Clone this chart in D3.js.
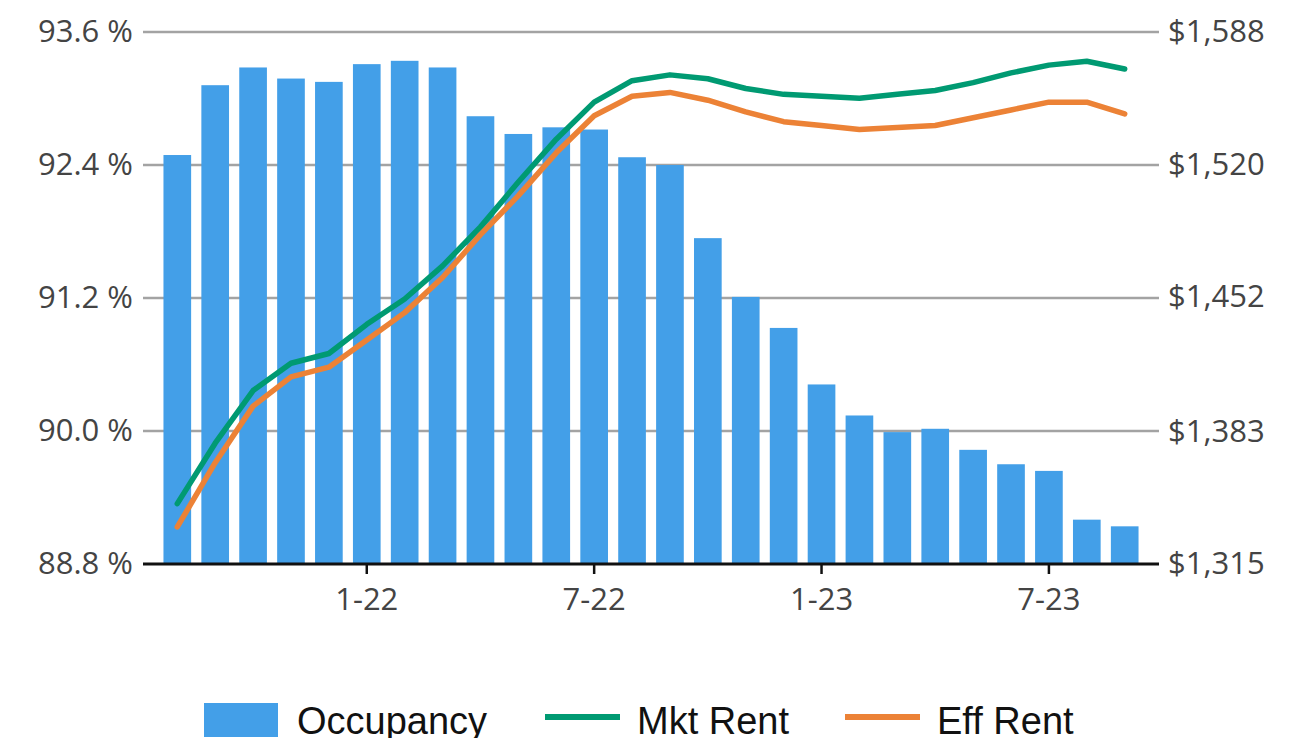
<!DOCTYPE html>
<html>
<head>
<meta charset="utf-8">
<script src="https://cdn.jsdelivr.net/npm/d3@7"></script>
<style>
  body { margin: 0; background: #fff; }
  svg { display: block; }
</style>
</head>
<body>
<svg id="chart" width="1292" height="738"></svg>
<script>
// months Aug-21 .. Sep-23
const months = ["8-21","9-21","10-21","11-21","12-21","1-22","2-22","3-22","4-22","5-22","6-22","7-22","8-22",
                "9-22","10-22","11-22","12-22","1-23","2-23","3-23","4-23","5-23","6-23","7-23","8-23","9-23"];
const occupancy = [92.49, 93.12, 93.28, 93.18, 93.15, 93.31, 93.34, 93.28, 92.84, 92.68, 92.74, 92.72, 92.47,
                   92.40, 91.74, 91.21, 90.93, 90.42, 90.14, 89.99, 90.02, 89.83, 89.70, 89.64, 89.20, 89.14];
const mktRent = [1346, 1377, 1404, 1418, 1423, 1438, 1451, 1468, 1488, 1511, 1533, 1552, 1563,
                 1566, 1564, 1559, 1556, 1555, 1554, 1556, 1558, 1562, 1567, 1571, 1573, 1569];
const effRent = [1334, 1367, 1396, 1411, 1416, 1430, 1444, 1462, 1484, 1504, 1526, 1545, 1555,
                 1557, 1553, 1547, 1542, 1540, 1538, 1539, 1540, 1544, 1548, 1552, 1552, 1546];
const xTicks = ["1-22", "7-22", "1-23", "7-23"];
const occTicks = [88.8, 90.0, 91.2, 92.4, 93.6];
const rentTicks = [1315, 1383, 1452, 1520, 1588];
const legendItems = [["Occupancy", "bar"], ["Mkt Rent", "mkt"], ["Eff Rent", "eff"]];

const colors = {bar: "#439fe8", mkt: "#009a72", eff: "#ec8236"};

const svg = d3.select("#chart");
const plot = {left: 143, right: 1159, top: 32, bottom: 564};

const x = d3.scaleBand()
    .domain(months)
    .range([plot.left, plot.right])
    .paddingInner(0.27)
    .paddingOuter(0.54);

const yOcc = d3.scaleLinear()
    .domain([88.8, 93.6])
    .range([plot.bottom, plot.top]);

const yRent = d3.scaleLinear()
    .domain([1315, 1588])
    .range([plot.bottom, plot.top]);

let styleLabels = sel => sel
    .style("font-family", "'Open Sans', sans-serif")
    .style("font-size", "31px")
    .attr("fill", "#444");

// gridlines
svg.append("g").selectAll("line").data(occTicks.slice(1))
    .enter().append("line")
    .attr("x1", plot.left).attr("x2", plot.right)
    .attr("y1", d => yOcc(d)).attr("y2", d => yOcc(d))
    .attr("stroke", "#a3a3a3")
    .attr("stroke-width", 2.5);

const yAxisL = d3.axisLeft(yOcc)
    .tickValues(occTicks)
    .tickSize(0)
    .tickPadding(10)
    .tickFormat(d => d3.format(".1f")(d) + " %");

svg.append("g")
    .attr("transform", `translate(${plot.left}, 0)`)
    .call(yAxisL)
    .call(g => g.select(".domain").remove())
    .selectAll("text").call(styleLabels);

const yAxisR = d3.axisRight(yRent)
    .tickValues(rentTicks)
    .tickSize(0)
    .tickPadding(9)
    .tickFormat(d => "$" + d3.format(",")(d));

svg.append("g")
    .attr("transform", `translate(${plot.right}, 0)`)
    .call(yAxisR)
    .call(g => g.select(".domain").remove())
    .selectAll("text").call(styleLabels);

// bars
svg.append("g").selectAll("rect").data(occupancy)
    .enter().append("rect")
    .attr("x", (d, i) => x(months[i]))
    .attr("y", d => yOcc(d))
    .attr("width", x.bandwidth())
    .attr("height", d => plot.bottom - yOcc(d))
    .attr("fill", colors.bar);

// rent lines
const line = y => d3.line()
    .x((d, i) => x(months[i]) + x.bandwidth() / 2)
    .y(d => y(d));

[[mktRent, colors.mkt], [effRent, colors.eff]].forEach(([data, c]) => {
    svg.append("path")
        .attr("d", line(yRent)(data))
        .attr("fill", "none")
        .attr("stroke", c)
        .attr("stroke-width", 5.5)
        .attr("stroke-linejoin", "round")
        .attr("stroke-linecap", "round");
});

// x axis
const xAxis = d3.axisBottom(x)
    .tickValues(xTicks)
    .tickSize(10)
    .tickPadding(14);

svg.append("g")
    .attr("transform", `translate(0, ${plot.bottom})`)
    .call(xAxis)
    .call(g => g.select(".domain").remove())
    .call(g => g.selectAll(".tick line").attr("stroke", "#111").attr("stroke-width", 2.5))
    .selectAll("text").call(styleLabels);

svg.append("line")
    .attr("x1", plot.left).attr("x2", plot.right)
    .attr("y1", plot.bottom).attr("y2", plot.bottom)
    .attr("stroke", "#111")
    .attr("stroke-width", 3);

// legend
const legendX = [204, 545, 845];
const legend = svg.append("g").attr("transform", "translate(0, 720)");
legendItems.forEach(([label, key], i) => {
    const g = legend.append("g").attr("transform", `translate(${legendX[i]}, 0)`);
    if (key === "bar") {
        g.append("rect").attr("x", 0).attr("y", -17).attr("width", 74).attr("height", 34)
            .attr("fill", colors[key]);
    } else {
        g.append("line").attr("x1", 0).attr("x2", 75).attr("y1", -3).attr("y2", -3)
            .attr("stroke", colors[key]).attr("stroke-width", 6);
    }
    g.append("text")
        .attr("x", key === "bar" ? 93 : 92)
        .attr("y", 14)
        .style("font-family", "'Liberation Sans', Arial, sans-serif")
        .style("font-size", "38px")
        .attr("fill", "#111")
        .text(label);
});
</script>
</body>
</html>
